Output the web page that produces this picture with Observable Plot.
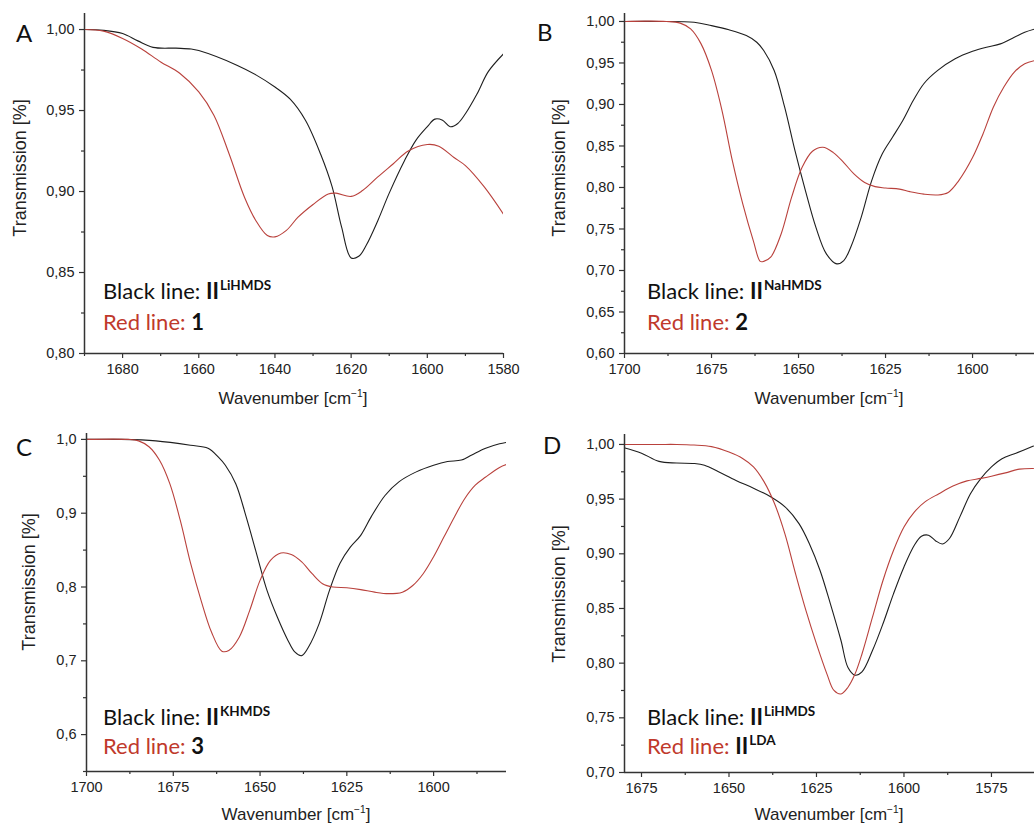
<!DOCTYPE html>
<html>
<head>
<meta charset="utf-8">
<script src="https://cdn.jsdelivr.net/npm/d3@7"></script>
<script src="https://cdn.jsdelivr.net/npm/@observablehq/plot@0.6"></script>
<style>
  html, body { margin: 0; padding: 0; background: #fff; }
  #page { position: relative; width: 1034px; height: 827px; overflow: hidden; background: #fff; }
  #page svg text { font-size: 14.5px; font-family: "Liberation Sans", Arial, sans-serif; }
  .panel { position: absolute; }
  .txt { position: absolute; white-space: nowrap; line-height: 1; }
  .ttl { font-family: "Liberation Sans", Arial, sans-serif; color: #222; }
  .leg { font-family: Lato, "Open Sans", sans-serif; font-size: 22px; }
  .leg b { font-weight: 700; color: #111; }
  .leg .sup { font-size: 13.5px; font-weight: 700; position: relative; top: -9px; color: #111; margin-left: 1px; }
  .letter { font-family: Lato, "Open Sans", sans-serif; font-size: 24px; color: #111; }
</style>
</head>
<body>
<div id="page"></div>
<script>
// ---------- Panel A: II(LiHMDS) vs 1 ----------
const aBlackWn = [1690,1685,1680,1676,1672,1666,1662,1660,1650,1645,1640,1636,1632,1628,1625,1622.5,1620,1618,1616,1613,1610,1606,1603,1600,1598,1596,1594,1592,1590,1587,1584,1580];
const aBlackT  = [1.000,0.9995,0.9975,0.993,0.989,0.9885,0.988,0.987,0.978,0.972,0.9645,0.957,0.944,0.923,0.903,0.878,0.859,0.860,0.867,0.882,0.899,0.919,0.9316,0.940,0.9447,0.944,0.940,0.942,0.948,0.960,0.974,0.985];
const aRedWn = [1690,1685,1680,1675,1670,1665,1660,1656,1652,1648,1645,1642,1640,1637,1634,1630,1626,1624,1620,1617,1613,1609,1605,1600,1597,1593,1590,1585,1580];
const aRedT  = [1.000,0.999,0.9945,0.988,0.980,0.973,0.9615,0.947,0.923,0.8965,0.882,0.8728,0.872,0.876,0.884,0.892,0.8985,0.899,0.897,0.9006,0.909,0.917,0.925,0.929,0.928,0.921,0.916,0.9027,0.886];

// ---------- Panel B: II(NaHMDS) vs 2 ----------
const bBlackWn = [1700,1690,1680,1675,1670,1665,1662,1660,1657,1654,1651,1648,1645,1642,1639,1637,1635,1632,1629,1626,1623,1620,1617,1614,1610,1605,1600,1596,1592,1588,1585,1582];
const bBlackT  = [1.000,1.000,0.999,0.995,0.990,0.983,0.975,0.965,0.941,0.897,0.844,0.796,0.752,0.720,0.708,0.712,0.728,0.764,0.808,0.840,0.8605,0.881,0.905,0.925,0.941,0.955,0.964,0.969,0.973,0.981,0.987,0.991];
const bRedWn = [1700,1688,1684,1681,1678,1675,1672,1669,1666,1663,1661,1660,1658,1655,1652,1649,1646,1643,1640,1637,1634,1631,1628,1625,1621,1618,1614,1610,1607,1604,1600,1597,1594,1591,1588,1585,1582];
const bRedT  = [1.000,1.000,0.998,0.991,0.973,0.941,0.893,0.832,0.780,0.736,0.711,0.711,0.716,0.744,0.788,0.824,0.8436,0.8484,0.842,0.830,0.816,0.806,0.801,0.7994,0.798,0.795,0.792,0.791,0.794,0.808,0.836,0.8645,0.897,0.921,0.939,0.949,0.953];

// ---------- Panel C: II(KHMDS) vs 3 ----------
const cBlackWn = [1700,1690,1680,1670,1665,1662,1660,1657,1654,1651,1648,1645,1642,1640,1638,1636,1633,1630,1627,1624,1621,1618,1614,1610,1605,1600,1596,1592,1589,1585,1581,1579];
const cBlackT  = [1.000,1.000,0.998,0.992,0.988,0.976,0.965,0.940,0.895,0.845,0.7955,0.759,0.728,0.712,0.707,0.719,0.750,0.7955,0.832,0.854,0.870,0.895,0.924,0.9425,0.956,0.965,0.970,0.972,0.979,0.988,0.994,0.996];
const cRedWn = [1700,1688,1685,1682,1679,1676,1673,1670,1667,1664,1661,1659,1656,1653,1650,1647,1644,1641,1638,1635,1632,1629,1625,1621,1617,1613,1609,1606,1603,1600,1597,1594,1591,1588,1585,1581,1579];
const cRedT  = [1.000,1.000,0.998,0.990,0.972,0.940,0.8905,0.832,0.782,0.739,0.713,0.714,0.732,0.768,0.809,0.836,0.846,0.844,0.834,0.818,0.8045,0.800,0.799,0.7965,0.793,0.791,0.793,0.802,0.818,0.841,0.868,0.895,0.920,0.938,0.949,0.962,0.966];

// ---------- Panel D: II(LiHMDS) vs II(LDA) ----------
const dBlackWn = [1680,1675,1670,1665,1660,1657,1653,1648,1643,1638,1634,1630,1627,1624,1621,1618,1616,1614,1612,1609,1606,1603,1600,1597,1595,1593,1591,1589,1587,1584,1581,1578,1575,1572,1568,1563];
const dBlackT  = [0.997,0.992,0.9845,0.983,0.9826,0.981,0.975,0.967,0.960,0.952,0.943,0.9276,0.909,0.885,0.854,0.8207,0.796,0.789,0.792,0.8115,0.836,0.8634,0.888,0.908,0.916,0.917,0.912,0.909,0.914,0.934,0.955,0.969,0.9795,0.987,0.992,0.9985];
const dRedWn = [1680,1670,1665,1660,1655,1650,1646,1643,1640,1637,1634,1631,1628,1625,1622,1620,1618,1616,1614,1612,1609,1606,1603,1600,1597,1594,1590,1586,1582,1578,1575,1571,1567,1563];
const dRedT  = [1.000,1.000,1.000,0.9995,0.998,0.993,0.987,0.9795,0.966,0.946,0.918,0.882,0.848,0.8176,0.790,0.775,0.7718,0.778,0.790,0.8084,0.842,0.8756,0.903,0.9245,0.9383,0.9475,0.955,0.962,0.9667,0.969,0.971,0.974,0.9774,0.978];

// ---------- Tick values ----------
const aXMajor = [1680,1660,1640,1620,1600,1580];
const aXMinor = [1690,1670,1650,1630,1610,1590];
const aYMajor = [0.80,0.85,0.90,0.95,1.00];
const aYMinor = [0.825,0.875,0.925,0.975];
const bXMajor = [1700,1675,1650,1625,1600];
const bXMinor = [1687.5,1662.5,1637.5,1612.5,1587.5];
const bYMajor = [0.60,0.65,0.70,0.75,0.80,0.85,0.90,0.95,1.00];
const bYMinor = [0.625,0.675,0.725,0.775,0.825,0.875,0.925,0.975];
const cXMajor = [1700,1675,1650,1625,1600];
const cXMinor = [1687.5,1662.5,1637.5,1612.5,1587.5];
const cYMajor = [0.6,0.7,0.8,0.9,1.0];
const cYMinor = [0.55,0.65,0.75,0.85,0.95];
const dXMajor = [1675,1650,1625,1600,1575];
const dXMinor = [1662.5,1637.5,1612.5,1587.5,1562.5];
const dYMajor = [0.70,0.75,0.80,0.85,0.90,0.95,1.00];
const dYMinor = [0.725,0.775,0.825,0.875,0.925,0.975];

const BLACK = "#1e1e1e";
const RED = "#b9413c";
const AXIS = "#333";

const toRows = (wn, t) => wn.map((w, i) => ({w, t: t[i]}));
const comma = (digits) => (d) => d.toFixed(digits).replace(".", ",");

const page = document.getElementById("page");

function panel(cfg) {
  const chart = Plot.plot({
    width: cfg.width, height: cfg.height,
    marginLeft: cfg.ml, marginRight: cfg.mr, marginTop: cfg.mt, marginBottom: cfg.mb,
    style: {fontFamily: "'Liberation Sans', Arial, sans-serif", fontSize: "14.5px", color: AXIS, background: "transparent", overflow: "visible"},
    x: {domain: cfg.xDomain},
    y: {domain: cfg.yDomain},
    marks: [
      Plot.line(toRows(cfg.blackWn, cfg.blackT), {x: "w", y: "t", stroke: BLACK, strokeWidth: 1.1, curve: "catmull-rom", clip: true}),
      Plot.line(toRows(cfg.redWn, cfg.redT), {x: "w", y: "t", stroke: RED, strokeWidth: 1.1, curve: "catmull-rom", clip: true}),
      Plot.axisX(cfg.xMinor, {tickSize: 3, tickFormat: () => "", label: null, strokeWidth: 1.2}),
      Plot.axisX(cfg.xMajor, {tickSize: 5, tickPadding: 5, tickFormat: (d) => String(d), label: null, strokeWidth: 1.2, fill: "#222", fontSize: 14.5}),
      Plot.axisY(cfg.yMinor, {tickSize: 3, tickFormat: () => "", label: null, strokeWidth: 1.2}),
      Plot.axisY(cfg.yMajor, {tickSize: 5, tickPadding: 5, tickFormat: comma(cfg.digits), label: null, strokeWidth: 1.2, fill: "#222", fontSize: 14.5}),
      Plot.ruleX([cfg.xDomain[0]], {stroke: AXIS, strokeWidth: 1.5}),
      Plot.ruleY([cfg.yDomain[0]], {stroke: AXIS, strokeWidth: 1.5})
    ]
  });
  const wrap = document.createElement("div");
  wrap.className = "panel";
  wrap.style.left = cfg.left + "px";
  wrap.style.top = cfg.top + "px";
  wrap.appendChild(chart);
  page.appendChild(wrap);
}

function text(html, cls, css) {
  const el = document.createElement("div");
  el.className = "txt " + cls;
  el.innerHTML = html;
  Object.assign(el.style, css);
  page.appendChild(el);
  return el;
}

panel({left: 0, top: 0, width: 517, height: 410, ml: 84, mr: 14, mt: 13, mb: 57,
  xDomain: [1690, 1580], yDomain: [0.80, 1.0099], digits: 2,
  xMajor: aXMajor, xMinor: aXMinor, yMajor: aYMajor, yMinor: aYMinor,
  blackWn: aBlackWn, blackT: aBlackT, redWn: aRedWn, redT: aRedT});
panel({left: 517, top: 0, width: 517, height: 410, ml: 107, mr: 0, mt: 13, mb: 57,
  xDomain: [1700, 1582.2], yDomain: [0.60, 1.0096], digits: 2,
  xMajor: bXMajor, xMinor: bXMinor, yMajor: bYMajor, yMinor: bYMinor,
  blackWn: bBlackWn, blackT: bBlackT, redWn: bRedWn, redT: bRedT});
panel({left: 0, top: 410, width: 517, height: 417, ml: 86, mr: 11, mt: 23, mb: 56,
  xDomain: [1700, 1579], yDomain: [0.55, 1.008], digits: 1,
  xMajor: cXMajor, xMinor: cXMinor, yMajor: cYMajor, yMinor: cYMinor,
  blackWn: cBlackWn, blackT: cBlackT, redWn: cRedWn, redT: cRedT});
panel({left: 517, top: 410, width: 517, height: 417, ml: 107, mr: 0, mt: 24, mb: 55,
  xDomain: [1679.86, 1562.7], yDomain: [0.70, 1.0091], digits: 2,
  xMajor: dXMajor, xMinor: dXMinor, yMajor: dYMajor, yMinor: dYMinor,
  blackWn: dBlackWn, blackT: dBlackT, redWn: dRedWn, redT: dRedT});

// Axis titles (centered at given points)
const xTitle = "Wavenumber [cm<sup style='font-size:0.6em;vertical-align:0.65em'>&minus;1</sup>]";
const yTitle = "Transmission [%]";
[[293, 398], [829, 398], [296, 814], [829, 814]].forEach(([x, y]) =>
  text(xTitle, "ttl", {left: x + "px", top: y + "px", fontSize: "17px", transform: "translate(-50%,-50%)"}));
[[20, 168], [559, 168], [29, 582], [559, 594]].forEach(([x, y]) =>
  text(yTitle, "ttl", {left: x + "px", top: y + "px", fontSize: "18px", transform: "translate(-50%,-50%) rotate(-90deg)"}));

// Panel letters
[["A", 16, 21], ["B", 537, 20], ["C", 16, 435], ["D", 543, 433]].forEach(([s, x, y]) =>
  text(s, "letter", {left: x + "px", top: y + "px"}));

// Legends
const legends = [
  [103, 299, 330, "LiHMDS", "<b>1</b>"],
  [647, 299, 330, "NaHMDS", "<b>2</b>"],
  [103, 725, 754, "KHMDS", "<b>3</b>"],
  [647, 725, 754, "LiHMDS", "<b>II</b><span class='sup'>LDA</span>"]
];
legends.forEach(([x, yb, yr, sup, red]) => {
  text("Black line: <b>II</b><span class='sup'>" + sup + "</span>", "leg", {left: x + "px", top: (yb - 19.5) + "px", color: "#111"});
  text("Red line: <span style='color:#111'>" + red + "</span>", "leg", {left: x + "px", top: (yr - 19.5) + "px", color: "#c0392b"});
});
</script>
</body>
</html>
